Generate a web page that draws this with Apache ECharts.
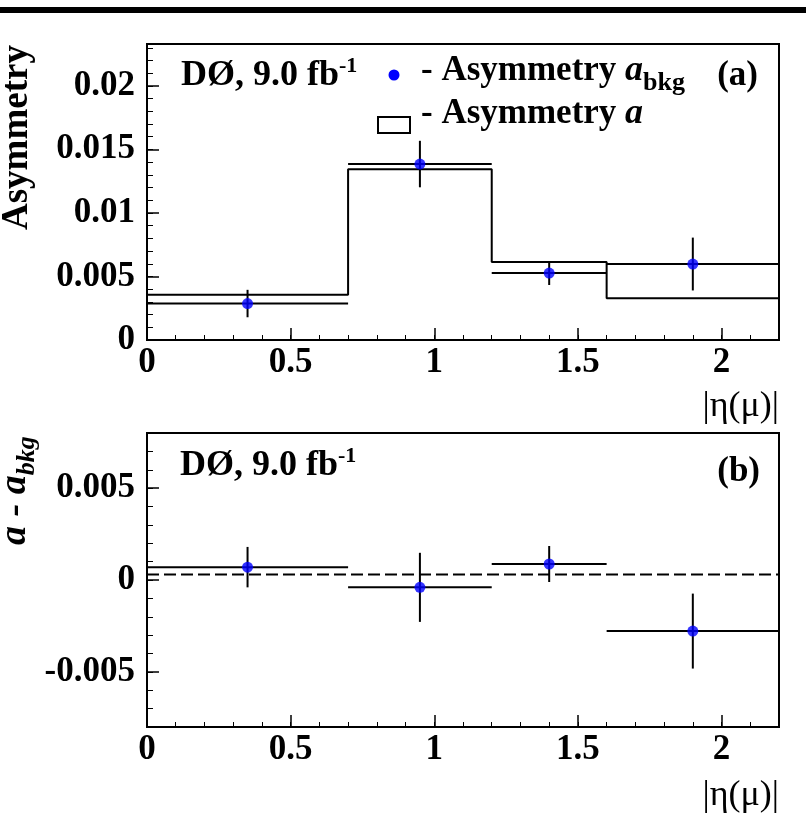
<!DOCTYPE html>
<html><head><meta charset="utf-8">
<script src="https://cdn.jsdelivr.net/npm/echarts@6/dist/echarts.min.js"></script>
<style>html,body{margin:0;padding:0;background:#fff}#c{width:806px;height:820px}</style>
</head><body><div id="c"></div>
<script>
// ---- data ----
const binEdges = [0, 0.7, 1.2, 1.6, 2.2];
const binCenters = [0.35, 0.95, 1.4, 1.9];
const asymA = [0.00357, 0.01345, 0.00614, 0.00328];
const asymBkg = [0.00287, 0.01385, 0.00527, 0.00598];
const asymBkgErr = [0.00108, 0.00183, 0.00094, 0.00208];
const diffVals = [0.0007, -0.0004, 0.00087, -0.00278];
const diffErr = [0.0011, 0.00188, 0.00098, 0.00204];
const diffMean = 0.0003;
const xTickLabels = [0, 0.5, 1, 1.5, 2];
const yTickLabelsTop = [0, 0.005, 0.01, 0.015, 0.02];
const yTickLabelsBottom = [-0.005, 0, 0.005];

const FONT = '"Liberation Serif", "Times New Roman", serif';
const labelStyle = {color:'#000', fontFamily:FONT, fontWeight:'bold', fontSize:35};

function pick(list){
  return v => { const t = list.find(t => Math.abs(t - v) < 1e-9); return t === undefined ? '' : String(t); };
}
function xAxisPair(gi){
  return [
    {type:'value', gridIndex:gi, position:'bottom', min:0, max:2.2, interval:0.5,
     axisLine:{show:false, onZero:false}, splitLine:{show:false},
     axisTick:{inside:true, length:12, lineStyle:{color:'#000', width:1.5}},
     axisLabel:Object.assign({margin:5, formatter:pick(xTickLabels)}, labelStyle)},
    {type:'value', gridIndex:gi, position:'bottom', min:0, max:2.2, interval:0.1,
     axisLine:{show:false, onZero:false}, splitLine:{show:false}, axisLabel:{show:false},
     axisTick:{inside:true, length:5, lineStyle:{color:'#000', width:1}}}
  ];
}
const yAxes = [
  {type:'value', gridIndex:0, position:'left', min:0, max:0.0233, interval:0.005,
   axisLine:{show:false, onZero:false}, splitLine:{show:false},
   axisTick:{inside:true, length:12, lineStyle:{color:'#000', width:1.5}},
   axisLabel:Object.assign({margin:12, formatter:pick(yTickLabelsTop)}, labelStyle)},
  {type:'value', gridIndex:0, position:'left', min:0, max:0.0233, interval:0.001,
   axisLine:{show:false, onZero:false}, splitLine:{show:false}, axisLabel:{show:false},
   axisTick:{inside:true, length:6, lineStyle:{color:'#000', width:1}}},
  {type:'value', gridIndex:1, position:'left', min:-0.008, max:0.008, splitNumber:3,
   axisLine:{show:false, onZero:false}, splitLine:{show:false},
   axisTick:{inside:true, length:12, lineStyle:{color:'#000', width:1.5}},
   axisLabel:Object.assign({margin:12, showMinLabel:false, showMaxLabel:false, formatter:pick(yTickLabelsBottom)}, labelStyle)},
  {type:'value', gridIndex:1, position:'left', min:-0.008, max:0.008, interval:0.001,
   axisLine:{show:false, onZero:false}, splitLine:{show:false}, axisLabel:{show:false},
   axisTick:{inside:true, length:6, lineStyle:{color:'#000', width:1}}}
];

function errRows(centers, vals, errs){
  return centers.map((c,i) => [c, vals[i], binEdges[i], binEdges[i+1], errs[i]]);
}
function renderErr(params, api){
  const x = api.value(0), y = api.value(1), xl = api.value(2), xh = api.value(3), e = api.value(4);
  const l = api.coord([xl, y]), h = api.coord([xh, y]);
  const t = api.coord([x, y + e]), b = api.coord([x, y - e]);
  const st = {stroke:'#000', lineWidth:2};
  return {type:'group', children:[
    {type:'line', shape:{x1:l[0], y1:l[1], x2:h[0], y2:h[1]}, style:st},
    {type:'line', shape:{x1:t[0], y1:t[1], x2:b[0], y2:b[1]}, style:st}
  ]};
}
const histData = binEdges.map((e,i) => [e, asymA[Math.min(i, asymA.length-1)]]);

function rs(size, opts){
  return Object.assign({fontFamily:FONT, fontWeight:'bold', fontSize:size, fill:'#000', color:'#000'}, opts||{});
}
const B36 = rs(36), B35 = rs(35);
const SUP = rs(22, {padding:[0,0,20,0]});
const IT35 = rs(36, {fontStyle:'italic'});
const SUB = rs(26, {padding:[24,0,0,0]});

function txt(x, y, text, rich, align, extra){
  return Object.assign({type:'text', x:x, y:y, z:100,
    style:{text:text, rich:rich, align:align||'left', verticalAlign:'middle', fill:'#000'}}, extra||{});
}

const option = {
  animation:false,
  backgroundColor:'#fff',
  grid:[
    {left:147, top:44, width:632, height:296, show:true, borderColor:'#000', borderWidth:2, backgroundColor:'transparent'},
    {left:147, top:433, width:632, height:294, show:true, borderColor:'#000', borderWidth:2, backgroundColor:'transparent'}
  ],
  xAxis: xAxisPair(0).concat(xAxisPair(1)),
  yAxis: yAxes,
  series:[
    {type:'line', xAxisIndex:0, yAxisIndex:0, step:'end', data:histData, symbol:'none',
     lineStyle:{color:'#000', width:2}, z:2},
    {type:'custom', xAxisIndex:0, yAxisIndex:0, data:errRows(binCenters, asymBkg, asymBkgErr), renderItem:renderErr, z:3},
    {type:'scatter', xAxisIndex:0, yAxisIndex:0, data:binCenters.map((c,i)=>[c, asymBkg[i]]),
     symbol:'circle', symbolSize:11, itemStyle:{color:'#0000ff'}, z:4},
    {type:'line', xAxisIndex:2, yAxisIndex:2, data:[[binEdges[0], diffMean],[binEdges[binEdges.length-1], diffMean]], symbol:'none',
     lineStyle:{color:'#000', width:2, type:[12,5]}, z:2},
    {type:'custom', xAxisIndex:2, yAxisIndex:2, data:errRows(binCenters, diffVals, diffErr), renderItem:renderErr, z:3},
    {type:'scatter', xAxisIndex:2, yAxisIndex:2, data:binCenters.map((c,i)=>[c, diffVals[i]]),
     symbol:'circle', symbolSize:11, itemStyle:{color:'#0000ff'}, z:4}
  ],
  graphic:[
    {type:'rect', shape:{x:0, y:7, width:806, height:6}, style:{fill:'#000'}},
    // y titles
    txt(17, 230, '{b|Asymmetry}', {b:rs(37)}, 'left', {rotation:Math.PI/2}),
    txt(15, 545, '{i|a - a}{s|bkg}', {i:rs(38, {fontStyle:'italic'}), s:rs(26, {fontStyle:'italic', padding:[24,0,0,0]})}, 'left', {rotation:Math.PI/2}),
    // legend panel (a)
    txt(181, 76, '{b|DØ, 9.0 fb}{p|-1}', {b:B36, p:SUP}),
    {type:'circle', shape:{cx:394, cy:75, r:5.5}, style:{fill:'#0000ff'}, z:100},
    txt(421, 71, '{b|- Asymmetry }{i|a}{s|bkg}', {b:B35, i:IT35, s:SUB}),
    txt(758, 76, '{b|(a)}', {b:B35}, 'right'),
    {type:'rect', shape:{x:378, y:117, width:32, height:16}, style:{fill:'#fff', stroke:'#000', lineWidth:2}, z:100},
    txt(421, 114, '{b|- Asymmetry }{i|a}', {b:B35, i:IT35}),
    // panel (b)
    txt(180, 466, '{b|DØ, 9.0 fb}{p|-1}', {b:B36, p:SUP}),
    txt(760, 472, '{b|(b)}', {b:B35}, 'right'),
    // x axis titles
    txt(779, 407, '{r|\u007Cη(μ)\u007C}', {r:rs(36, {fontWeight:'normal'})}, 'right'),
    txt(779, 796, '{r|\u007Cη(μ)\u007C}', {r:rs(36, {fontWeight:'normal'})}, 'right')
  ]
};
const chart = echarts.init(document.getElementById('c'), null, {renderer:'canvas'});
chart.setOption(option);
</script>
</body></html>
